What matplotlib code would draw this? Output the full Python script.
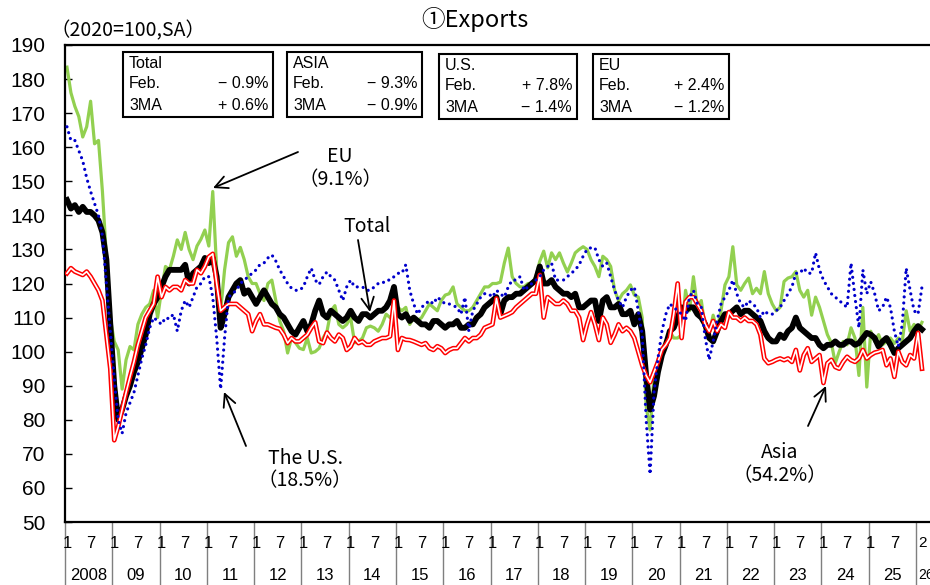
import matplotlib
matplotlib.use('Agg')
import matplotlib.pyplot as plt
import matplotlib.transforms as mtrans
from matplotlib.patches import Rectangle, FancyArrowPatch
import numpy as np

# ---------------- data (2020=100, seasonally adjusted), Jan 2008 - Feb 2026 ----------------
total = [
    144.5, 142, 143, 141, 142.5, 141, 141, 140, 138.5, 135, 127, 108,      # 2008
    90, 80, 83, 87, 90, 94, 97, 101, 105, 111, 114, 116,                   # 2009
    119, 122, 124, 124, 124, 124, 125.5, 120, 123, 124, 125, 127.5,        # 2010
    126, 127.5, 122, 107, 111, 116, 118, 120, 121, 117, 118, 116,          # 2011
    114, 116, 118, 116, 114, 113, 111, 110, 108, 106, 105, 107,            # 2012
    109, 106, 108, 112, 115, 111, 110, 112, 111, 110, 109, 110,            # 2013
    112, 110, 109, 111, 111, 110, 111, 112, 112, 113, 115, 119,            # 2014
    111, 110, 111, 109, 110, 109, 108, 108, 107, 109, 109, 108,            # 2015
    107, 108, 108, 109, 107, 107, 108, 108, 110, 111, 113, 114,            # 2016
    115, 116, 111, 115, 116, 116, 117, 117, 118, 119, 120, 121,            # 2017
    125, 120, 120, 121, 119, 118, 117, 117, 116, 117, 113, 113,            # 2018
    114, 115, 115, 109, 115, 116, 113, 113, 114, 111, 111, 112,            # 2019
    108, 111, 106, 93, 83, 87, 94, 99, 102, 106, 107, 110,                 # 2020
    113, 112, 113, 113, 111, 110, 108, 104, 103, 106, 109, 111,            # 2021
    111, 112, 113, 111, 112, 112, 111, 110, 109, 106, 104, 103,            # 2022
    103, 105, 104, 106, 107, 110, 107, 106, 105, 104, 104, 102,            # 2023
    101, 102, 102, 103, 102, 102, 103, 103, 102, 102.5, 104, 105.5,        # 2024
    105, 104, 101.5, 103, 104, 102, 99.6, 101, 102, 103, 104, 106,         # 2025
    107.5, 106.5,                                                          # 2026
]
asia = [
    123, 124.5, 123.5, 123, 122.5, 123.5, 122, 120, 118, 115, 105, 95,
    74, 78, 83, 88, 92.6, 97, 102, 106, 110, 112, 114, 122,
    116, 119, 118, 119, 119, 118, 121, 120, 120, 124, 123, 125,
    127.8, 128.7, 120, 112, 113, 114, 114, 114, 113, 112, 111, 106,
    109, 111, 108, 108, 107.5, 107, 106.7, 105, 102.5, 104, 103, 103,
    104, 105, 107, 108.6, 103, 102.5, 105.6, 104, 103, 105, 104, 100.5,
    101.5, 104, 102.5, 103, 102, 102, 103, 103.5, 104, 104, 104.5, 115,
    100.5, 104, 103.5, 103.4, 103, 102.5, 102, 102.5, 101, 100.5, 101.6, 101,
    99.6, 100.5, 101, 101, 102.5, 104, 103, 104, 104, 105, 107, 107.5,
    108, 115.6, 110, 110.5, 111, 111.6, 113, 114, 115, 116, 117, 117,
    122.5, 110, 116, 115, 114, 114, 115, 114, 112, 112, 110, 103.4,
    108, 111.6, 108, 103.4, 110, 108, 102.6, 105, 108, 106, 107, 106,
    104, 100, 96, 93, 91, 94, 97, 100.6, 102, 104, 111, 120,
    104, 114.6, 116, 116, 114, 112, 108, 106, 109, 106, 108, 107,
    111.6, 110, 110, 109, 110, 109, 109, 108, 105, 98, 96.6, 97,
    97.6, 98, 97.5, 98, 97, 100.5, 94.5, 99, 101, 97, 98, 99,
    90.8, 96.6, 97.6, 95.5, 95, 97, 98.5, 97.5, 97, 98, 100.5, 98,
    99, 99.7, 100, 100.5, 96, 98, 92.6, 100, 97, 96, 99, 98,
    105.5, 95,
]
us = [
    166, 162, 162, 159, 156, 151, 147, 143.5, 140, 134, 120, 106,
    92, 80, 76, 82, 85, 88, 93, 98, 102, 107, 110, 109,
    108, 110, 109.6, 111, 106, 112, 115, 113, 116, 119, 120, 122,
    122, 116, 104, 89, 104, 116, 117, 118, 120, 121, 122, 123,
    124, 125.6, 126, 127.5, 128.4, 126.6, 124, 122, 120, 118.6, 118, 118,
    119, 122, 124.5, 121, 119.7, 122, 123.4, 122, 121, 118, 115, 119,
    121, 119, 119, 119, 118, 118, 119, 120, 120, 121, 121, 122,
    123, 123, 125.5, 118, 114, 111, 113, 114, 115, 114, 116, 115,
    114, 114, 113.5, 113, 111, 116, 106, 112, 114, 116, 117, 117,
    116, 118, 117, 116, 119, 121, 121, 122, 118, 119, 120, 121,
    122, 124, 125, 126, 121, 121, 121, 122, 123, 124, 125.5, 128,
    130, 130.5, 130.5, 127, 125, 126, 122, 118, 115, 113, 116, 118,
    119, 112, 105, 80, 64, 88, 98, 106, 111, 114, 113, 112,
    111, 109, 116, 118, 114, 113, 104, 97.6, 103, 109, 114, 116,
    118, 121, 117, 114, 113, 115, 114, 113, 110, 112, 111, 111,
    112, 113, 115, 117, 119, 123, 123, 124.5, 123, 123, 129, 124,
    121, 119, 117, 116, 115, 114, 113, 126, 116, 107, 124, 117,
    120.5, 117, 112, 113, 116, 113, 106, 101.5, 108, 124.5, 118, 112,
    111, 119,
]
eu = [
    183.5, 176, 172, 169, 163, 166, 173.5, 161, 162, 147, 128, 110,
    103, 100.5, 89, 97.6, 101.5, 100.5, 108, 111, 113, 114, 118, 110,
    118, 125, 124, 128, 132.8, 130, 135, 130, 127, 131, 133, 135.7,
    131, 147, 124, 112, 124, 132, 133.7, 128, 130.6, 127, 122, 120,
    120, 117, 115, 120, 121, 115, 109, 106, 99.6, 104, 102.6, 101,
    100.6, 104, 99.6, 100, 101, 104, 106, 112, 113.5, 108, 107, 108,
    110, 102.6, 103, 104, 107, 107.5, 107, 106, 108, 111, 110, 110,
    113, 112, 113, 108, 110, 109, 110, 112, 114, 113, 112, 115,
    116.6, 117, 119, 114, 113, 112, 112, 113, 115, 117, 119, 119,
    120, 120, 120.4, 126, 130.4, 122, 120, 119, 119, 120, 120, 122,
    126.5, 129.5, 124.6, 129, 127, 129, 126, 123.4, 126, 129, 130, 130.8,
    130, 127, 125, 122, 128, 127, 125, 118, 115, 117, 118, 119.6,
    116.6, 116, 110, 84, 77, 93, 97.6, 100.6, 103, 106, 104, 104,
    105, 118, 112, 122, 113, 115, 106.5, 105, 110.7, 106.6, 112, 119.6,
    122, 130.8, 119.6, 118, 120, 121.6, 117, 118.6, 117, 123.5, 117, 114,
    112, 113, 120.6, 121.6, 122, 123.5, 118, 116, 118, 110.7, 116, 113,
    109, 105, 102.6, 96.6, 100, 103, 102, 107, 104, 93, 113, 89.6,
    106, 103, 105, 102, 103, 104, 102.4, 104, 103, 112, 106, 108,
    106, 108.6,
]
year_labels = ['2008', '09', '10', '11', '12', '13', '14', '15', '16', '17',
               '18', '19', '20', '21', '22', '23', '24', '25', '26']
month_labels = ['1', '7']
yticks = list(range(50, 191, 10))

boxes = [
    ('Total', '\u2212 0.9%', '+ 0.6%'),
    ('ASIA', '\u2212 9.3%', '\u2212 0.9%'),
    ('U.S.', '+ 7.8%', '\u2212 1.4%'),
    ('EU', '+ 2.4%', '\u2212 1.2%'),
]

# ---------------- figure ----------------
W, H = 930, 585
fig = plt.figure(figsize=(W / 100, H / 100), dpi=100)
fig.patch.set_facecolor('white')

def fx(x):
    return x / W

def fy(y):
    return 1 - y / H

LAT = ['Liberation Sans', 'DejaVu Sans']
JP = ['Noto Sans CJK JP', 'DejaVu Sans']

L, R, T, B = 65, 930, 45, 522
PXM = 3.94  # pixels per month
ax = fig.add_axes([fx(L), fy(B), fx(R) - fx(L), (B - T) / H])
ax.set_xlim(-0.5, (R - L) / PXM - 0.5)
ax.set_ylim(50, 190)

x = np.arange(len(total))
ax.plot(x, eu, color='#92D050', lw=2.3, zorder=2, solid_joinstyle='round')
ax.plot(x, total, color='black', lw=4.2, zorder=3, solid_joinstyle='round')
ax.plot(x, asia, color='#FF0000', lw=3.4, zorder=4, solid_joinstyle='round')
ax.plot(x, asia, color='white', lw=1.2, zorder=4.1, solid_joinstyle='round')
ax.plot(x, us, color='#0000CC', lw=2.3, zorder=5, linestyle=(0, (0.01, 1.9)),
        dash_capstyle='round')

for s in ['top', 'left', 'bottom']:
    ax.spines[s].set_linewidth(1.6)
ax.spines['right'].set_visible(False)

ax.set_yticks(yticks)
ax.set_yticklabels([str(v) for v in yticks], family=LAT, fontsize=15)
ax.tick_params(axis='y', direction='in', length=5, width=1.0, pad=14)
ax.set_xticks([])

# category axis labels below the plot
trans = mtrans.blended_transform_factory(ax.transData, ax.transAxes)
ym = -(543 - B) / (B - T)
yy = -(575 - B) / (B - T)
ybot = -(H + 2 - B) / (B - T)
nyears = len(year_labels)
for i, lab in enumerate(year_labels):
    x0 = 12 * i - 0.5
    ax.plot([x0, x0], [0, ybot], transform=trans, color='#7f7f7f', lw=1.0,
            clip_on=False, zorder=1)
    if i < nyears - 1:
        ax.text(12 * i, ym, month_labels[0], transform=trans, ha='center', va='center',
                fontsize=12, family=LAT)
        ax.text(12 * i + 6, ym, month_labels[1], transform=trans, ha='center', va='center',
                fontsize=12, family=LAT)
        ax.text(12 * i + 5.5, yy, lab, transform=trans, ha='center', va='center',
                fontsize=12, family=LAT)
    else:
        ax.text(12 * i + 0.05, ym, '2', transform=trans, ha='left', va='center',
                fontsize=11, family=LAT)
        ax.text(12 * i + 0.05, yy, lab, transform=trans, ha='left', va='center',
                fontsize=10, family=LAT)

# title and unit
fig.text(fx(475), fy(20), '\u2460Exports', ha='center', va='center', fontsize=17, family=JP)
fig.text(fx(128), fy(31), '\uff082020=100,SA\uff09', ha='center', va='center', fontsize=14, family=JP)

# info boxes
box_pos = [(123, 273, 52, 117), (287, 422, 52, 117), (439, 577, 54, 119), (593, 729, 54, 119)]
for (name, feb, ma), (x0, x1, y0, y1) in zip(boxes, box_pos):
    fig.add_artist(Rectangle((fx(x0), fy(y1)), fx(x1) - fx(x0), fy(y0) - fy(y1),
                             transform=fig.transFigure, fill=False, ec='black', lw=1.5))
    lx = x0 + 6
    rx = x1 - 5
    fs = 11.5
    fig.text(fx(lx), fy(y0 + 11), name, ha='left', va='center', fontsize=fs, family=LAT)
    fig.text(fx(lx), fy(y0 + 32), 'Feb.', ha='left', va='center', fontsize=fs, family=LAT)
    fig.text(fx(rx), fy(y0 + 32), feb, ha='right', va='center', fontsize=fs, family=LAT)
    fig.text(fx(lx), fy(y0 + 53), '3MA', ha='left', va='center', fontsize=fs, family=LAT)
    fig.text(fx(rx), fy(y0 + 53), ma, ha='right', va='center', fontsize=fs, family=LAT)

# annotations
def arrow(p_from, p_to):
    fig.add_artist(FancyArrowPatch((fx(p_from[0]), fy(p_from[1])), (fx(p_to[0]), fy(p_to[1])),
                                   transform=fig.transFigure, arrowstyle='->,head_length=9,head_width=4.5',
                                   color='black', lw=1.3, shrinkA=0, shrinkB=0))

fig.text(fx(340), fy(157), 'EU', ha='center', va='center', fontsize=14, family=JP)
fig.text(fx(340), fy(180), '\uff089.1%\uff09', ha='center', va='center', fontsize=14, family=JP)
arrow((298, 152), (213, 188))

fig.text(fx(367), fy(226), 'Total', ha='center', va='center', fontsize=14, family=JP)
arrow((358, 240), (370, 312))

fig.text(fx(305), fy(458), 'The U.S.', ha='center', va='center', fontsize=14, family=JP)
fig.text(fx(305), fy(481), '\uff0818.5%\uff09', ha='center', va='center', fontsize=14, family=JP)
arrow((246, 446), (224, 392))

fig.text(fx(780), fy(452), 'Asia', ha='center', va='center', fontsize=14, family=JP)
fig.text(fx(780), fy(476), '\uff0854.2%\uff09', ha='center', va='center', fontsize=14, family=JP)
arrow((808, 426), (826, 386))

fig.savefig('out.png', dpi=100, facecolor='white')
